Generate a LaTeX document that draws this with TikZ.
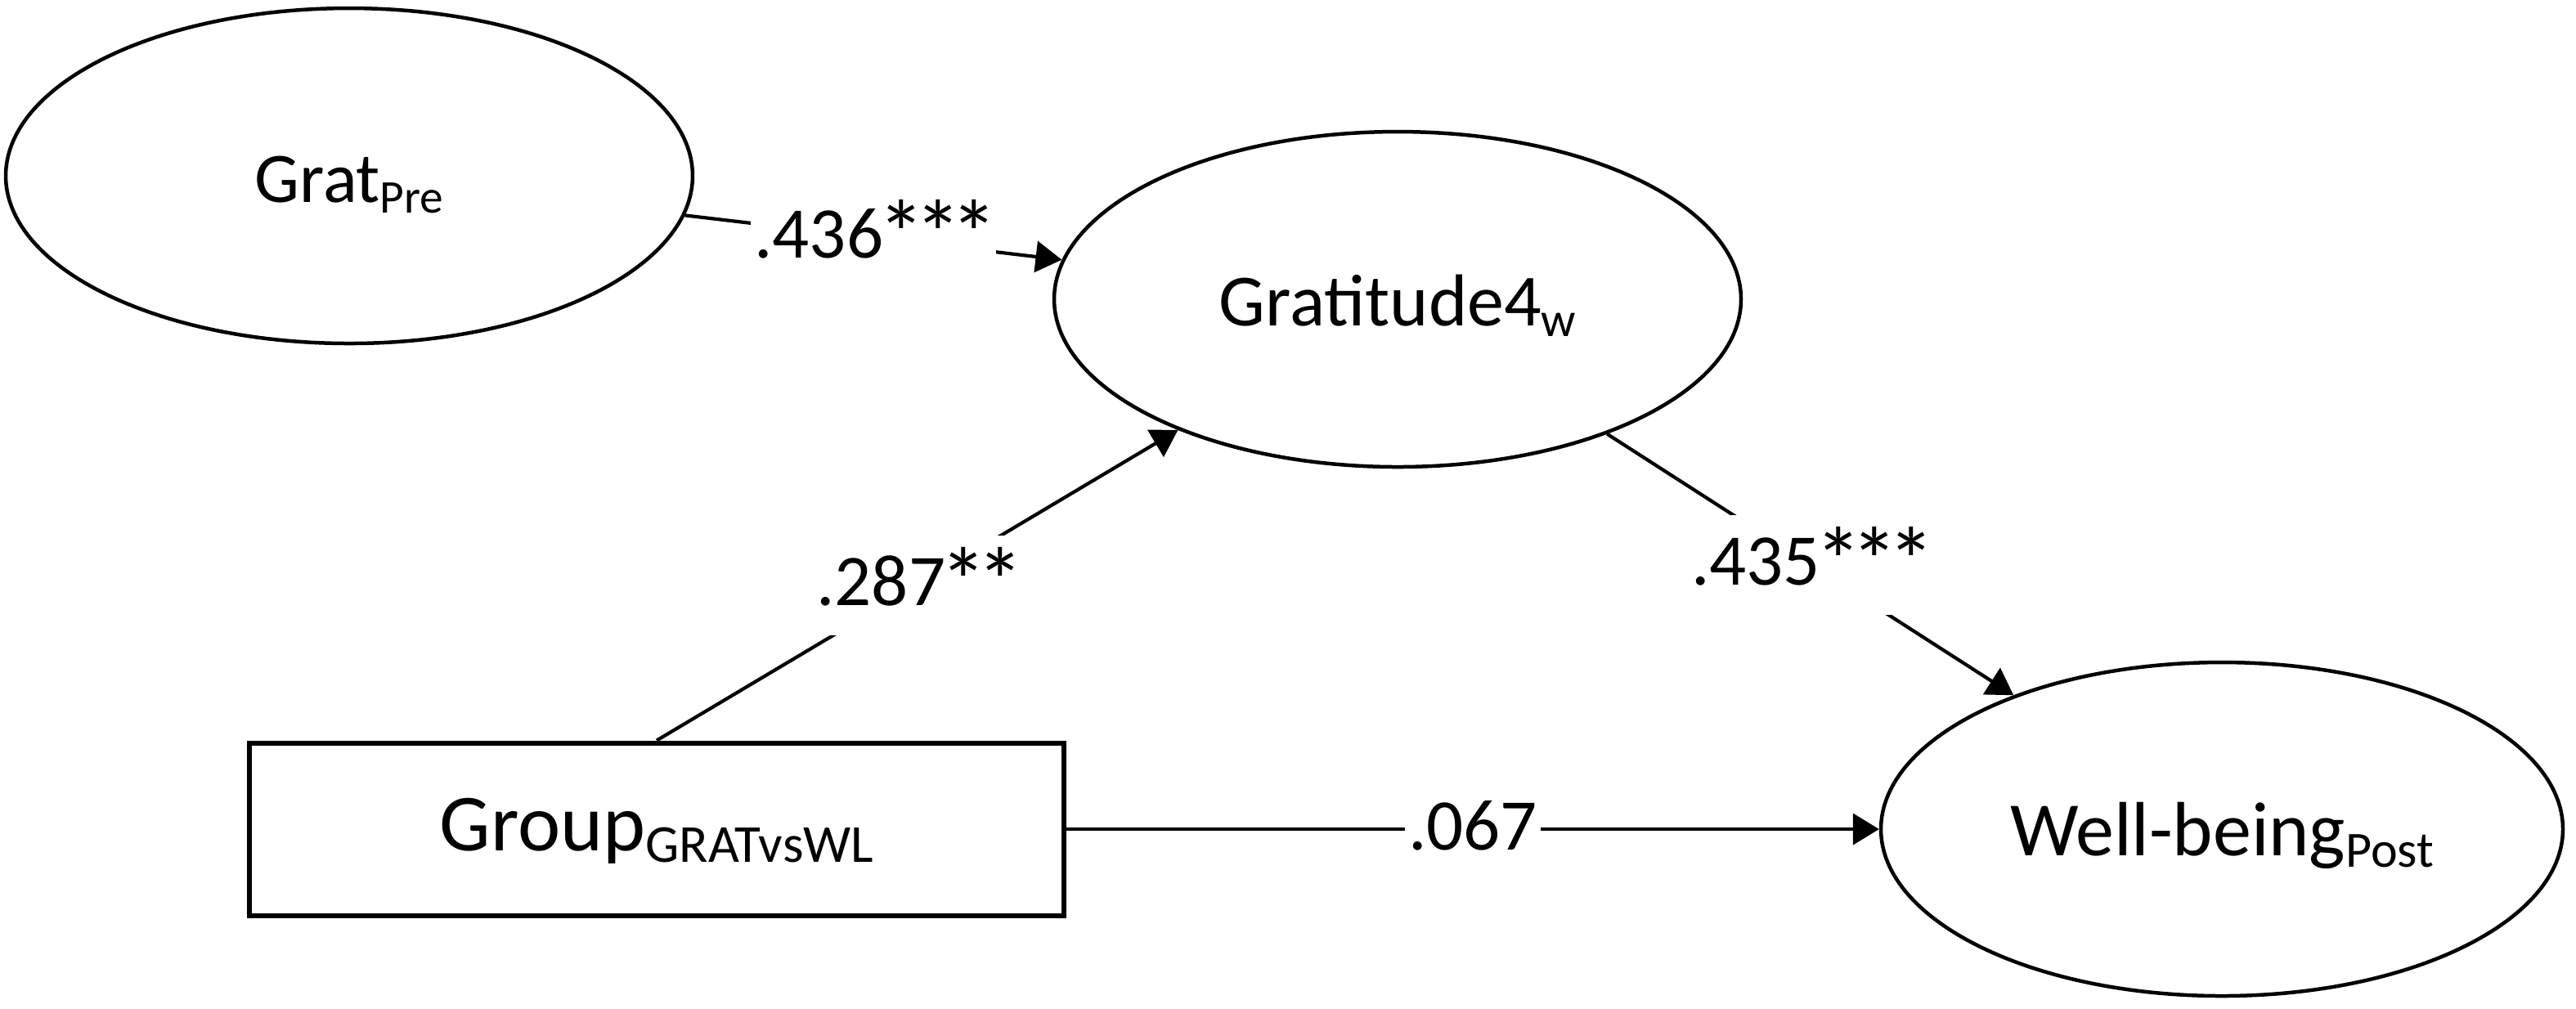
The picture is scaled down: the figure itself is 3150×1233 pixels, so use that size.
\documentclass[tikz,border=0pt]{standalone}
\usepackage{fontspec}
\usepackage{graphicx}
\setmainfont{Carlito}
\usetikzlibrary{arrows.meta,shapes.geometric}
\newcommand{\sbx}[1]{\raisebox{-0.15em}{\scalebox{0.66}{#1}}}
\newcommand{\stx}{\makebox[0.5em][c]{\raisebox{-0.12em}{\scalebox{1.3}{*}}}}
\begin{document}
\begin{tikzpicture}[x=0.1pt,y=-0.1pt,
  lat/.style={draw,ellipse,line width=0.45pt,inner sep=0pt,minimum width=84pt,minimum height=41pt,text height=0.64em,text depth=0pt},
  obs/.style={draw,rectangle,line width=0.6pt,inner sep=0pt,minimum width=99.7pt,minimum height=21.1pt,text height=0.64em,text depth=0pt},
  conn/.style={line width=0.42pt,-{Triangle[length=3.2pt,width=3.8pt]}},
  coef/.style={fill=white,inner xsep=0.4pt,inner ysep=1.1pt,text height=0.75em,text depth=0.25em,font=\fontsize{8.9pt}{10pt}\selectfont}
]
\useasboundingbox (0,0) rectangle (3150,1233);
\fill[white] (0,0) rectangle (3150,1233);

\node[lat,font=\fontsize{8.7pt}{10pt}\selectfont] (gpre) at (427,215) {Grat\sbx{Pre}};
\node[lat,font=\fontsize{9pt}{10pt}\selectfont] (g4) at (1709,366) {Gratitude4\sbx{w}};
\node[lat,minimum width=83.4pt,minimum height=40.8pt,font=\fontsize{9.4pt}{10pt}\selectfont] (wb) at (2717,1014) {Well-being\sbx{Post}};
\node[obs,font=\fontsize{9.9pt}{10pt}\selectfont] (grp) at (803,1014) {\raisebox{0.6pt}{Group\sbx{GRATvsWL}}};

\draw[conn] (gpre) -- node[coef]{.436\stx\stx\stx} (g4);
\draw[conn] (grp.north) -- node[coef]{.287\stx\stx} (g4);
\draw[conn] (g4) -- node[coef]{.435\stx\stx\stx} (wb);
\draw[conn] (grp) -- node[coef]{.067} (wb);
\end{tikzpicture}
\end{document}
